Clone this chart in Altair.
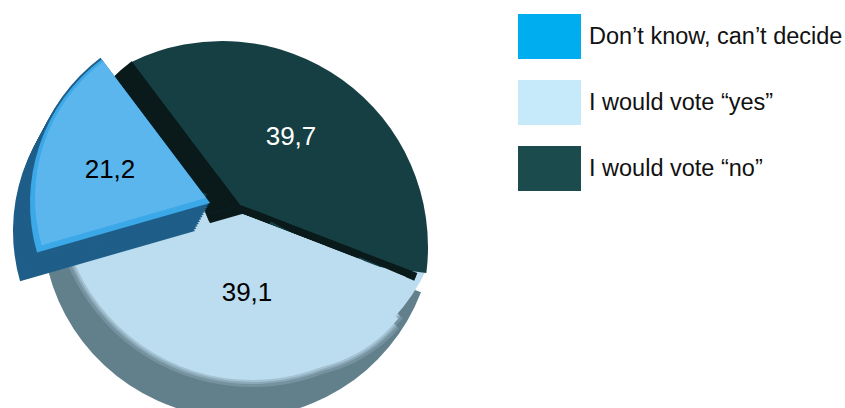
import math
import altair as alt
import pandas as pd

# Survey shares, drawn clockwise from the top-left edge of the "no" slice
categories = ["I would vote “no”", "I would vote “yes”", "Don’t know, can’t decide"]
values = [39.7, 39.1, 21.2]
legend_order = ["Don’t know, can’t decide", "I would vote “yes”", "I would vote “no”"]
legend_colors = ["#00AEEF", "#C7EAFB", "#1C4B4D"]
label_positions = [(291, 137), (247, 293), (110, 170)]
label_colors = ["white", "black", "black"]

starts = {c: sum(values[:i]) for i, c in enumerate(categories)}
shares = dict(zip(categories, values))

# The tilted pie foreshortens its slices, so percent maps piecewise to angle
theta_scale = alt.Scale(
    domain=[0, 39.7, 78.8, 100],
    range=[math.radians(a) for a in (-37, 111, 254, 323)],
)


def wedge(cat, cx, cy, r, color, f0=0.0, f1=1.0):
    """One circular sector covering the fraction f0..f1 of a category's slice."""
    frame = pd.DataFrame(
        {"start": [starts[cat] + f0 * shares[cat]], "end": [starts[cat] + f1 * shares[cat]]}
    )
    return (
        alt.Chart(frame)
        .mark_arc(radius=r, fill=color)
        .encode(
            x=alt.value(cx),
            y=alt.value(cy),
            theta=alt.Theta("start:Q", scale=theta_scale),
            theta2="end:Q",
        )
    )


no, yes, unsure = categories
WALL = "#0A1A1B"
NO_TOP = "#163F43"
YES_TOP = "#BBDDEF"
layers = []

# Small carrier sector that feeds the colour legend; it sits under the "no" slice
carrier = pd.DataFrame({"cat": legend_order, "start": [0, 10, 20], "end": [10, 20, 30]})
layers.append(
    alt.Chart(carrier)
    .mark_arc(radius=3)
    .encode(
        x=alt.value(300),
        y=alt.value(150),
        theta=alt.Theta("start:Q", scale=theta_scale),
        theta2="end:Q",
        color=alt.Color(
            "cat:N",
            scale=alt.Scale(domain=legend_order, range=legend_colors),
            sort=legend_order,
            legend=alt.Legend(
                title=None,
                orient="none",
                legendX=527,
                legendY=14,
                padding=0,
                symbolType="M-1.4,-1H1.4V1H-1.4Z",
                symbolSize=2025,
                symbolStrokeWidth=0,
                labelFont="Liberation Sans",
                labelFontSize=23.5,
                labelColor="#111111",
                labelOffset=17,
                labelLimit=400,
                rowPadding=21,
            ),
        ),
    )
)

# "yes" slice: grey rim, soft transition rings, then the pale top face
layers.append(wedge(yes, 238, 222, 196, "#62808C", 0, 1.05))
for grow, shade in [(7, "#7692A0"), (4, "#8CA9B8"), (2, "#A3C3D3")]:
    layers.append(wedge(yes, 252, 187, 193 + grow, shade, 0.14, 1))
    layers.append(wedge(yes, 292, 235, 135 + grow, shade, 0.14, 0.55))
layers.append(wedge(yes, 252, 187, 193, YES_TOP, 0.03, 1))
layers.append(wedge(yes, 292, 235, 135, YES_TOP, 0.12, 0.55))

# "no" slice: dark top face, then black cut walls trim its left and lower edges
layers.append(wedge(no, 222, 247, 206, NO_TOP, 0.074, 0.907))
layers.append(wedge(unsure, 240, 205, 180, WALL, 0.5, 1))
layers.append(wedge(yes, 240, 205, 190, WALL, 0, 0.0175))
layers.append(wedge(yes, 240, 205, 130, WALL, 0, 0.05))
layers.append(wedge(yes, 240, 205, 35, WALL))
layers.append(wedge(unsure, 240, 205, 35, WALL))

# Pale face again where it meets the black wall
layers.append(wedge(yes, 242, 214, 90, YES_TOP))
layers.append(wedge(yes, 242, 214, 130, YES_TOP, 0, 0.2))
layers.append(wedge(yes, 242, 214, 175, YES_TOP, 0, 0.098))

# Pulled-out "unsure" slice: extruded dark side, then bevelled top face
for step in range(13):
    layers.append(wedge(unsure, 195 + step * 15 / 12, 231 - step * 28 / 12, 182, "#1F5E89"))
layers.append(wedge(unsure, 210, 203, 180, "#3BA8E8"))
layers.append(wedge(unsure, 206, 198, 171, "#5CB6EE"))

# Value labels
label_frame = pd.DataFrame(
    {
        "text": [f"{v:.1f}".replace(".", ",") for v in values],
        "px": [p[0] for p in label_positions],
        "py": [p[1] for p in label_positions],
        "fg": label_colors,
    }
)
layers.append(
    alt.Chart(label_frame)
    .mark_text(font="Liberation Sans", fontSize=26, align="center", baseline="middle")
    .encode(
        x=alt.X("px:Q", scale=alt.Scale(domain=[0, 845], range=[0, 845]), axis=None),
        y=alt.Y("py:Q", scale=alt.Scale(domain=[0, 408], range=[0, 408]), axis=None),
        text="text:N",
        color=alt.Color("fg:N", scale=None, legend=None),
    )
)

chart = (
    alt.layer(*layers)
    .resolve_scale(color="independent")
    .properties(width=845, height=408, padding=0, autosize=alt.AutoSizeParams(type="none"))
    .configure_view(stroke=None)
)

chart.save("out.html", embed_options={"renderer": "svg", "actions": False})
